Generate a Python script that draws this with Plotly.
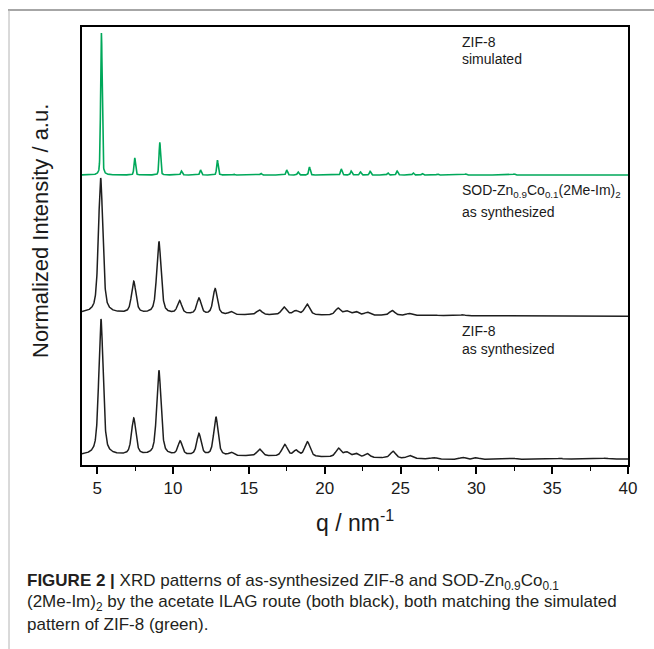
import numpy as np
import plotly.graph_objects as go

# ---------------- data ----------------
q_min, q_max = 4.0, 40.0

# ZIF-8 simulated (green): peak positions (nm^-1) and relative intensities (%)
sim_pos = [5.28, 7.48, 9.13, 10.56, 11.82, 12.93, 14.0, 15.8, 17.5, 18.25, 19.0,
           21.1, 21.75, 22.36, 23.0, 24.17, 24.78, 25.84, 26.44, 27.43, 29.3, 32.5]
sim_int = [100, 12.0, 23.0, 2.8, 3.5, 10.5, 0.7, 1.1, 3.5, 2.1, 5.6,
           4.2, 2.8, 2.1, 2.5, 1.4, 2.8, 1.4, 1.1, 0.7, 0.7, 0.7]

# SOD-Zn0.9Co0.1(2Me-Im)2 as synthesized (black, middle)
sod_pos = [5.23, 7.41, 9.07, 10.43, 11.71, 12.78, 13.82, 15.69, 17.32, 18.09, 18.84,
           20.88, 21.45, 22.05, 22.8, 24.45, 25.55, 27.2, 29.1]
sod_int = [100, 23.4, 53.3, 9.5, 11.7, 19.0, 2.2, 3.6, 5.8, 2.9, 8.0,
           5.1, 2.9, 2.6, 2.2, 3.6, 1.5, 0.7, 0.7]
sod_base_q = [4, 9, 14, 25, 40]
sod_base_v = [1.5, 0.8, 0.0, -0.4, -1.0]

# ZIF-8 as synthesized (black, bottom)
zif_pos = [5.25, 7.41, 9.07, 10.47, 11.71, 12.83, 13.84, 15.71, 17.36, 18.11, 18.86,
           20.91, 21.45, 22.05, 22.8, 24.5, 25.6, 27.2, 29.1, 30.0, 32.4, 35.5, 38.5]
zif_int = [100, 26.8, 62.3, 10.1, 15.9, 28.3, 2.2, 5.1, 8.7, 4.3, 10.9,
           6.5, 3.6, 2.9, 2.9, 5.1, 2.2, 1.1, 1.4, 1.1, 0.7, 0.6, 0.6]
zif_base_q = [4, 14, 25, 28, 40]
zif_base_v = [0.6, 0.0, -1.8, -2.5, -2.2]

tick_vals = [5, 10, 15, 20, 25, 30, 35, 40]

# ---------------- layout constants ----------------
W, H = 654, 649
L, R, T, B = 82, 26, 27, 184
PW, PH = W - L - R, H - T - B
FONT = "Arial, 'Liberation Sans', Helvetica, sans-serif"
NARROW = "'Liberation Sans Narrow', 'Arial Narrow', Arial, sans-serif"


def py(px):      # pixel row -> y data (range 0..1)
    return (H - B - px) / PH


def pxx(px):     # pixel col -> paper x
    return (px - L) / PW


q = np.linspace(q_min, q_max, 3601)


def profile(pos, inten, fwhm, eta):
    y = np.zeros_like(q)
    for p, a in zip(pos, inten):
        w = fwhm(p) / 2.0
        d = ((q - p) / w) ** 2
        y += a * (eta / (1 + d) + (1 - eta) * np.exp(-np.log(2) * d))
    return y


sim_y = profile(sim_pos, sim_int, lambda p: 0.12, 0.3)
sod_y = profile(sod_pos, sod_int, lambda p: 0.34 if p < 15 else 0.42, 0.55) \
    + np.interp(q, sod_base_q, sod_base_v)
zif_y = profile(zif_pos, zif_int, lambda p: 0.34 if p < 15 else 0.42, 0.55) \
    + np.interp(q, zif_base_q, zif_base_v)

sim_off, sim_scale = py(175), 142 / PH / 100
sod_off, sod_scale = py(315), 135 / PH / 100
zif_off, zif_scale = py(456), 136 / PH / 100

fig = go.Figure()
fig.add_trace(go.Scatter(x=q, y=zif_off + zif_y * zif_scale, mode="lines",
                         line=dict(color="#1e1e1e", width=1.5), showlegend=False))
fig.add_trace(go.Scatter(x=q, y=sod_off + sod_y * sod_scale, mode="lines",
                         line=dict(color="#1e1e1e", width=1.5), showlegend=False))
fig.add_trace(go.Scatter(x=q, y=sim_off + sim_y * sim_scale, mode="lines",
                         line=dict(color="#00a85a", width=1.6), showlegend=False))

lab_font = dict(family=FONT, size=14, color="#1a1a1a")
labels = [
    ("ZIF-8", 41.7), ("simulated", 59.3),
    ("SOD-Zn<sub>0.9</sub>Co<sub>0.1</sub>(2Me-Im)<sub>2</sub>", 190.7), ("as synthesized", 211.7),
    ("ZIF-8", 331), ("as synthesized", 349),
]
for txt, ypx in labels:
    fig.add_annotation(x=q_min + (460 - L) / PW * (q_max - q_min), y=py(ypx), xref="x", yref="y",
                       text=txt, showarrow=False, xanchor="left", yanchor="middle",
                       font=lab_font)

fig.add_annotation(x=0.5, y=(H - B - 521) / PH, xref="paper", yref="paper",
                   text="q / nm<sup>-1</sup>", showarrow=False, xanchor="center", yanchor="middle",
                   font=dict(family=FONT, size=23, color="#1a1a1a"))
fig.add_annotation(x=pxx(40), y=(H - B - 231) / PH, xref="paper", yref="paper",
                   text="Normalized Intensity / a.u.", showarrow=False, textangle=-90,
                   xanchor="center", yanchor="middle",
                   font=dict(family=FONT, size=22, color="#1a1a1a"))

cap_font = dict(family=NARROW, size=17, color="#231f20")
caption = [
    ("<b>FIGURE 2 |</b> XRD patterns of as-synthesized ZIF-8 and SOD-Zn<sub>0.9</sub>Co<sub>0.1</sub>", 582),
    ("(2Me-Im)<sub>2</sub> by the acetate ILAG route (both black), both matching the simulated", 603),
    ("pattern of ZIF-8 (green).", 624),
]
for txt, ypx in caption:
    fig.add_annotation(x=pxx(25), y=(H - B - ypx) / PH, xref="paper", yref="paper",
                       text=txt, showarrow=False, xanchor="left", yanchor="middle",
                       align="left", font=cap_font)

fig.add_shape(type="line", xref="paper", yref="paper", x0=pxx(8), x1=pxx(654),
              y0=(H - B - 10) / PH, y1=(H - B - 10) / PH, line=dict(color="#a6a6a6", width=2))
fig.add_shape(type="line", xref="paper", yref="paper", x0=pxx(9), x1=pxx(9),
              y0=(H - B - 10) / PH, y1=(H - B - 649) / PH, line=dict(color="#b4b4b4", width=1))

fig.update_layout(
    width=W, height=H, margin=dict(l=L, r=R, t=T, b=B),
    paper_bgcolor="white", plot_bgcolor="white",
    xaxis=dict(range=[q_min, q_max], tickvals=tick_vals, ticks="outside", ticklen=7,
               tickwidth=1.5, tickcolor="black", showline=True, mirror=True,
               linecolor="black", linewidth=2, showgrid=False, zeroline=False,
               tickfont=dict(family=FONT, size=17, color="#1a1a1a"),
               minor=dict(dtick=2.5, tick0=0, ticks="outside", ticklen=4, tickwidth=1.2,
                          tickcolor="black", showgrid=False)),
    yaxis=dict(range=[0, 1], showticklabels=False, ticks="", showline=True, mirror=True,
               linecolor="black", linewidth=2, showgrid=False, zeroline=False),
)

fig.write_html("out.html")
